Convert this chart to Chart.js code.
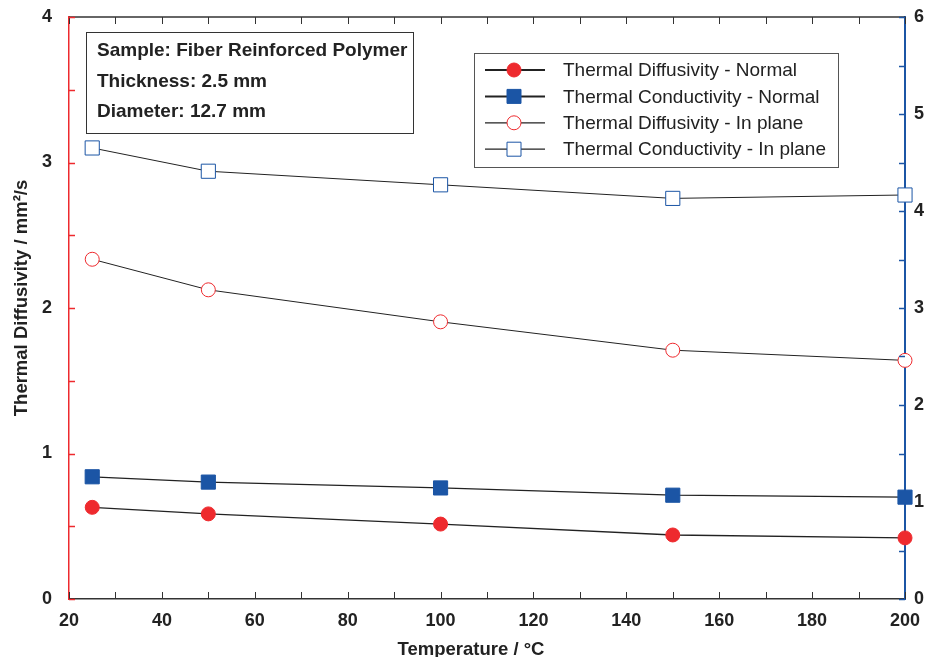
<!DOCTYPE html>
<html>
<head>
<meta charset="utf-8">
<script src="https://cdn.jsdelivr.net/npm/chart.js@4.4.0/dist/chart.umd.min.js"></script>
<style>
  html, body { margin: 0; padding: 0; background: #fff; overflow: hidden; }
  #wrap { width: 925px; height: 657px; }
  canvas { display: block; }
</style>
</head>
<body>
<div id="wrap"><canvas id="chart"></canvas></div>
<script>
// data
const temperatures = [25, 50, 100, 150, 200];
const diffNormal = [0.63, 0.585, 0.515, 0.44, 0.42];
const condNormal = [1.26, 1.205, 1.145, 1.07, 1.05];
const diffInPlane = [2.335, 2.125, 1.905, 1.71, 1.64];
const condInPlane = [4.65, 4.41, 4.27, 4.13, 4.165];

const xTicks = [20, 40, 60, 80, 100, 120, 140, 160, 180, 200];
const leftTicks = [0, 1, 2, 3, 4];
const rightTicks = [0, 1, 2, 3, 4, 5, 6];

const infoLines = ['Sample: Fiber Reinforced Polymer', 'Thickness: 2.5 mm', 'Diameter: 12.7 mm'];
const legendLabels = ['Thermal Diffusivity - Normal', 'Thermal Conductivity - Normal',
                      'Thermal Diffusivity - In plane', 'Thermal Conductivity - In plane'];

const RED = '#ee2a2e';
const BLUE = '#1b55a5';
const INK = '#222';

function pts(ys) {
    return temperatures.map((t, i) => ({ x: t, y: ys[i] }));
}

const seriesStyle = [
    { data: diffNormal, axis: 'y', shape: 'circle', fill: RED, stroke: RED, lw: 1.3 },
    { data: condNormal, axis: 'y1', shape: 'rect', fill: BLUE, stroke: BLUE, lw: 1.3 },
    { data: diffInPlane, axis: 'y', shape: 'circle', fill: '#fff', stroke: RED, lw: 1 },
    { data: condInPlane, axis: 'y1', shape: 'rect', fill: '#fff', stroke: BLUE, lw: 1 },
];

// ticks, frame, info box, legend
const decorPlugin = {
    id: 'decor',
    afterDraw(chart) {
        const ctx = chart.ctx;
        const a = chart.chartArea;
        const xs = chart.scales.x, yl = chart.scales.y, yr = chart.scales.y1;
        ctx.save();

        // top frame line
        ctx.strokeStyle = '#333';
        ctx.lineWidth = 1.5;
        ctx.beginPath();
        ctx.moveTo(a.left, a.top);
        ctx.lineTo(a.right, a.top);
        ctx.stroke();

        // x ticks, inward top and bottom
        ctx.lineWidth = 1;
        for (let v = 20; v <= 200; v += 10) {
            const px = Math.round(xs.getPixelForValue(v)) + 0.5;
            ctx.beginPath();
            ctx.moveTo(px, a.bottom); ctx.lineTo(px, a.bottom - 7);
            ctx.moveTo(px, a.top); ctx.lineTo(px, a.top + 7);
            ctx.stroke();
        }
        // left ticks (red)
        ctx.strokeStyle = RED;
        ctx.lineWidth = 1.5;
        for (let v = 0; v <= 4; v += 0.5) {
            const py = Math.round(yl.getPixelForValue(v)) + 0.5;
            ctx.beginPath();
            ctx.moveTo(a.left, py); ctx.lineTo(a.left + 6, py);
            ctx.stroke();
        }
        // right ticks (blue)
        ctx.strokeStyle = BLUE;
        for (let v = 0; v <= 6; v += 0.5) {
            const py = Math.round(yr.getPixelForValue(v)) + 0.5;
            ctx.beginPath();
            ctx.moveTo(a.right, py); ctx.lineTo(a.right - 6, py);
            ctx.stroke();
        }

        // axis titles
        ctx.fillStyle = INK;
        ctx.font = 'bold 18.5px "Liberation Sans", Arial, sans-serif';
        ctx.textAlign = 'center';
        ctx.textBaseline = 'middle';
        ctx.fillText('Temperature / °C', 471, 650);
        ctx.save();
        ctx.translate(22, 298);
        ctx.rotate(-Math.PI / 2);
        ctx.fillText('Thermal Diffusivity / mm²/s', 0, 0);
        ctx.restore();

        // info box
        ctx.strokeStyle = '#333';
        ctx.lineWidth = 1;
        ctx.strokeRect(86.5, 32.5, 327, 101);
        ctx.textAlign = 'left';
        ctx.font = 'bold 19px "Liberation Sans", Arial, sans-serif';
        infoLines.forEach((t, i) => ctx.fillText(t, 97, 51 + i * 30.5));

        // legend box
        ctx.strokeStyle = '#555';
        ctx.strokeRect(474.5, 53.5, 364, 114);
        ctx.font = '19px "Liberation Sans", Arial, sans-serif';
        legendLabels.forEach((t, i) => {
            const s = seriesStyle[i];
            const cy = 70 + i * 26.4;
            ctx.strokeStyle = INK;
            ctx.lineWidth = i < 2 ? 2 : 1.3;
            ctx.beginPath();
            ctx.moveTo(485, cy); ctx.lineTo(545, cy);
            ctx.stroke();
            ctx.fillStyle = s.fill;
            ctx.strokeStyle = s.stroke;
            ctx.lineWidth = 1;
            ctx.beginPath();
            if (s.shape === 'circle') ctx.arc(514, cy, 7, 0, Math.PI * 2);
            else ctx.rect(507, cy - 7, 14, 14);
            ctx.fill(); ctx.stroke();
            ctx.fillStyle = INK;
            ctx.fillText(t, 563, cy + 1);
        });
        ctx.restore();
    }
};

const tickFont = { family: '"Liberation Sans", Arial, sans-serif', size: 18, weight: 'bold' };

function noPad(s) {
    s.paddingTop = 0; s.paddingBottom = 0; s.paddingLeft = 0; s.paddingRight = 0;
}

new Chart(document.getElementById('chart'), {
    type: 'line',
    data: {
        datasets: seriesStyle.map((s, i) => ({
            label: legendLabels[i],
            data: pts(s.data),
            yAxisID: s.axis,
            borderColor: INK,
            borderWidth: s.lw,
            pointStyle: s.shape,
            pointRadius: s.shape === 'rect' ? 10 : 7,
            pointBackgroundColor: s.fill,
            pointBorderColor: s.stroke,
            pointBorderWidth: 1,
            tension: 0,
            fill: false,
            clip: false,
        })),
    },
    options: {
        responsive: true,
        maintainAspectRatio: false,
        animation: false,
        layout: { padding: { top: 17, right: 0, left: 0, bottom: 0 } },
        plugins: { legend: { display: false }, tooltip: { enabled: false } },
        scales: {
            x: {
                type: 'linear', min: 20, max: 200,
                afterBuildTicks: (s) => { s.ticks = xTicks.map(v => ({ value: v })); },
                afterFit: (s) => { s.height = 58; noPad(s); },
                ticks: { font: tickFont, color: INK, padding: 11, maxRotation: 0 },
                grid: { drawOnChartArea: false, drawTicks: false },
                border: { color: '#333', width: 1.5 },
            },
            y: {
                position: 'left', min: 0, max: 4,
                afterBuildTicks: (s) => { s.ticks = leftTicks.map(v => ({ value: v })); },
                afterFit: (s) => { s.width = 69; noPad(s); },
                ticks: { font: tickFont, color: INK, padding: 17 },
                grid: { drawOnChartArea: false, drawTicks: false },
                border: { color: RED, width: 1.5 },
            },
            y1: {
                position: 'right', min: 0, max: 6,
                afterBuildTicks: (s) => { s.ticks = rightTicks.map(v => ({ value: v })); },
                afterFit: (s) => { s.width = 20; noPad(s); },
                ticks: { font: tickFont, color: INK, padding: 9 },
                grid: { drawOnChartArea: false, drawTicks: false },
                border: { color: BLUE, width: 2 },
            },
        },
    },
    plugins: [decorPlugin],
});
</script>
</body>
</html>
